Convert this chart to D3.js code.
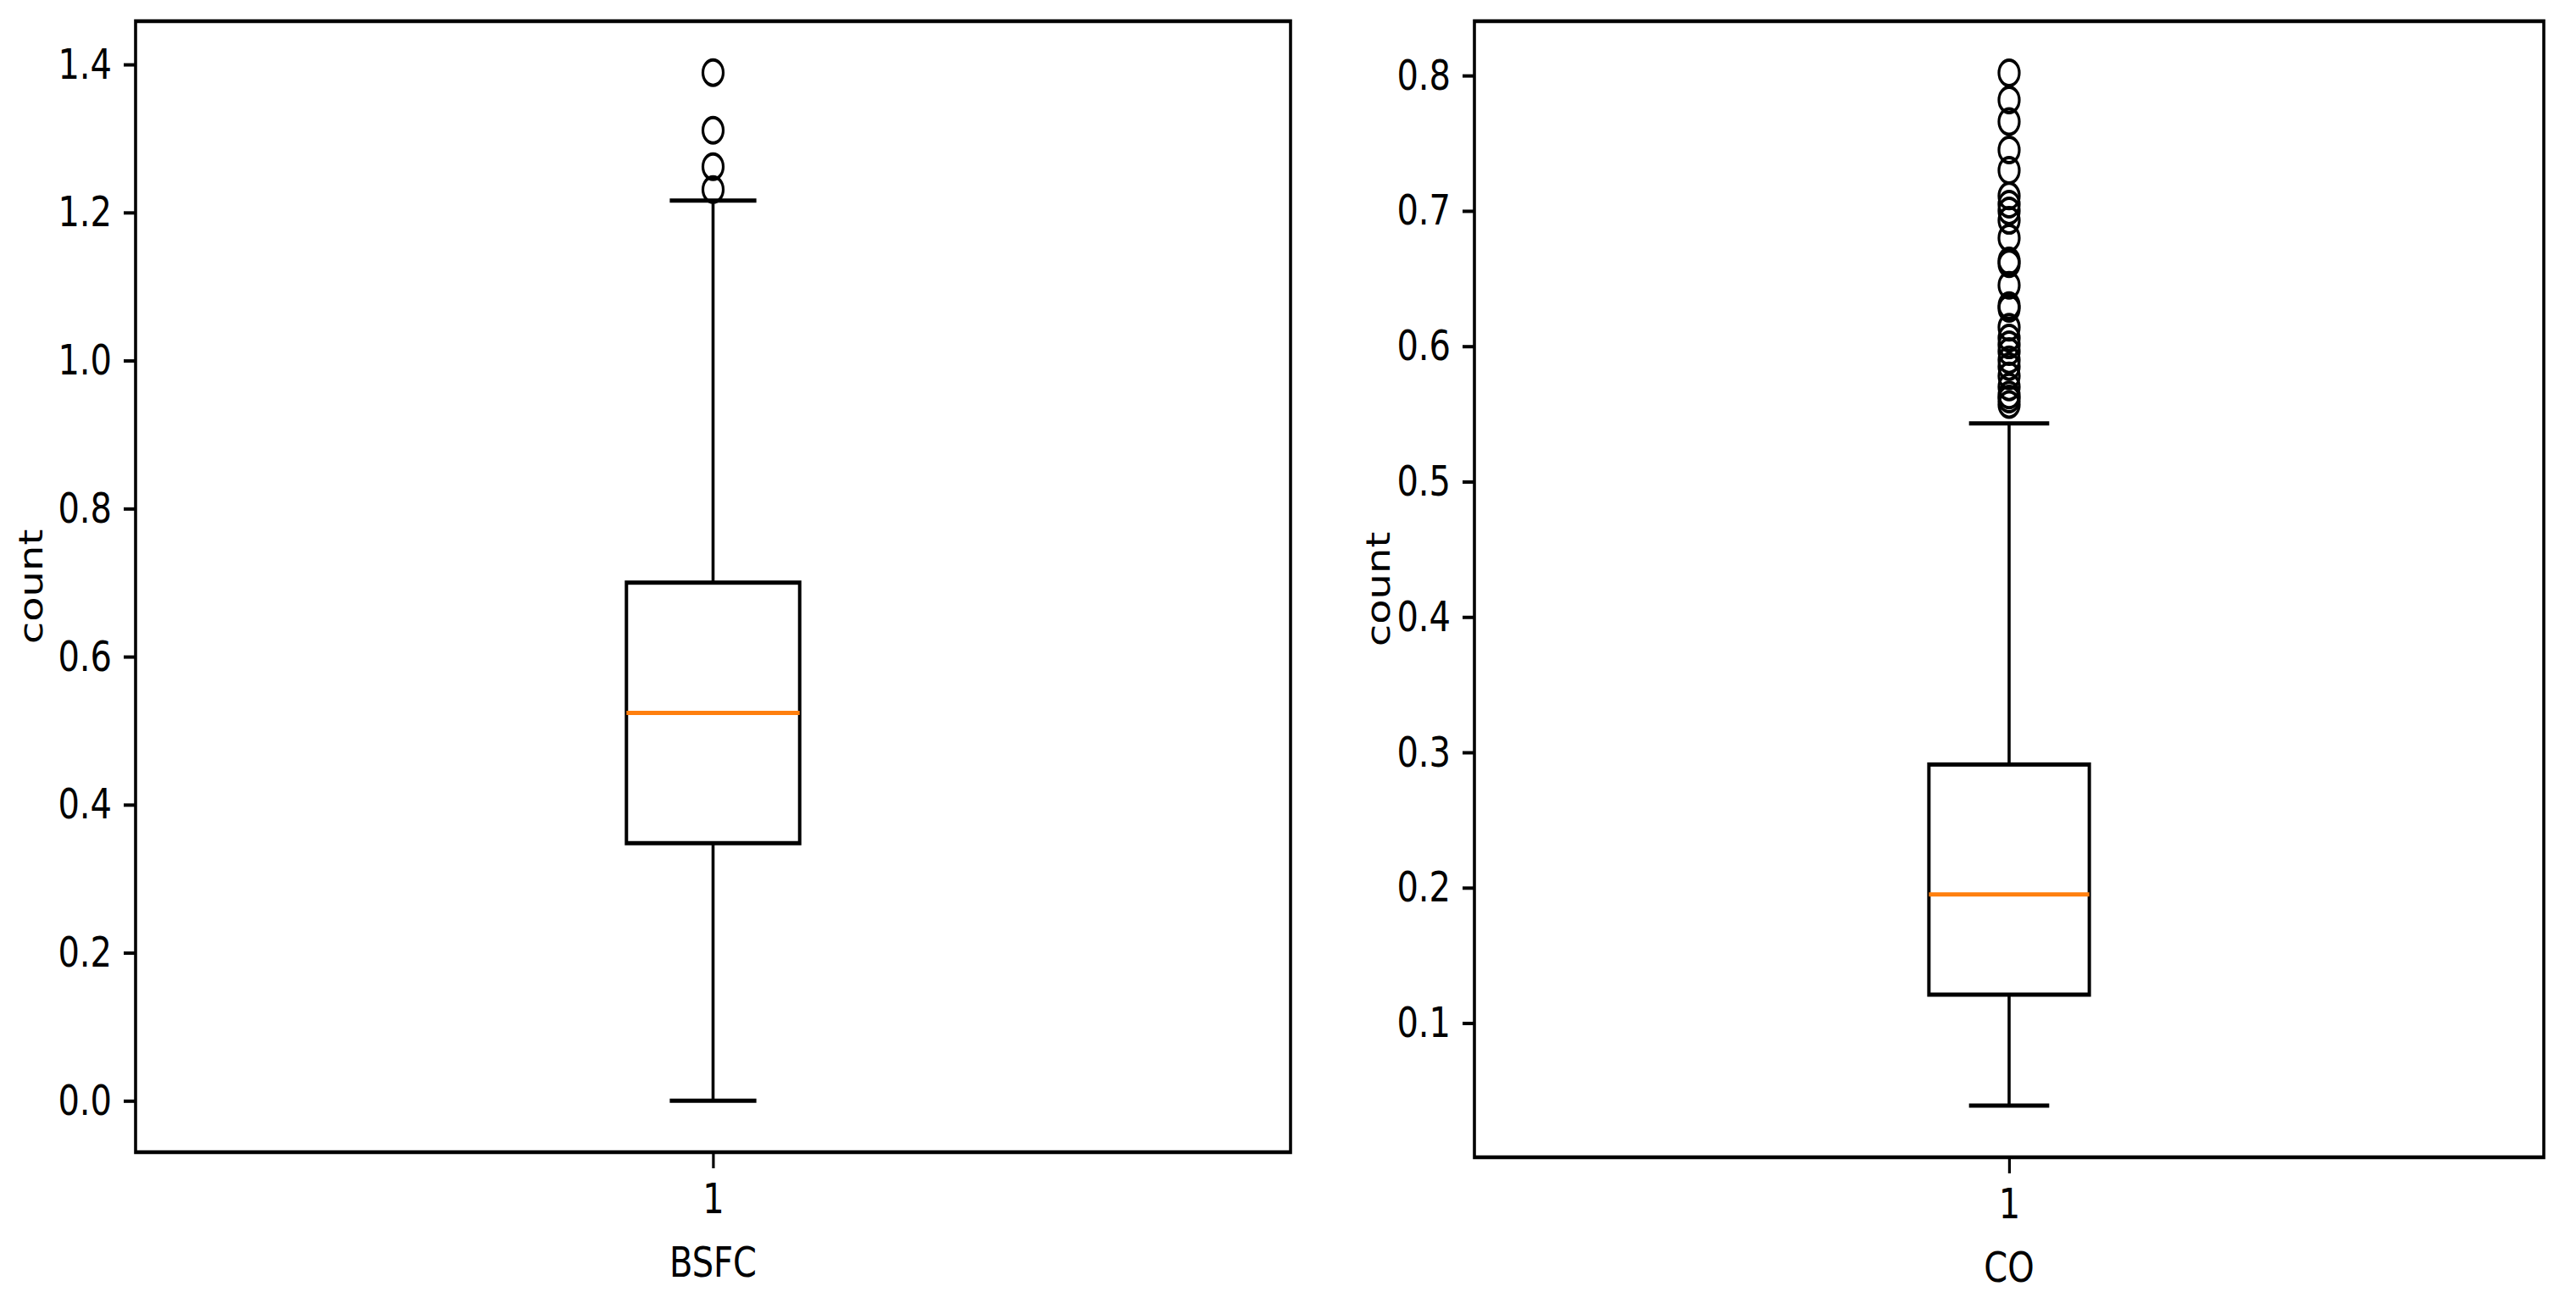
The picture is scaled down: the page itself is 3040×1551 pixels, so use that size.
<!DOCTYPE html>
<html>
<head>
<meta charset="utf-8">
<script src="https://cdn.jsdelivr.net/npm/d3@7"></script>
<style>
	html, body { margin: 0; padding: 0; background: #fff; }
	.tick text { font-family: 'DejaVu Sans', sans-serif; fill: #000; }
	.tick line { stroke: #000; }
</style>
</head>
<body>
<div id="chart"></div>
<script>
'use strict';

// five number summaries
var bsfcStats = [0.0, 0.348, 0.524, 0.700, 1.216];
var bsfcFliers = [1.231, 1.262, 1.311, 1.389];
var bsfcTicks = [0.0, 0.2, 0.4, 0.6, 0.8, 1.0, 1.2, 1.4];

var coStats = [0.039, 0.121, 0.195, 0.291, 0.543];
var coFliers = [0.557, 0.561, 0.564, 0.570, 0.578, 0.585, 0.590, 0.596,
	0.601, 0.606, 0.614, 0.628, 0.630, 0.645, 0.661, 0.663, 0.680,
	0.693, 0.700, 0.705, 0.711, 0.730, 0.745, 0.766, 0.782, 0.802];
var coTicks = [0.1, 0.2, 0.3, 0.4, 0.5, 0.6, 0.7, 0.8];

var xLabels = ['BSFC', 'CO'];
var yLabel = 'count';

var W = 3040, H = 1551;
// the picture is squeezed sideways, so everything is drawn in a stretched space
var K = 0.8;

var panels = [
	{ stats: bsfcStats, fliers: bsfcFliers, ticks: bsfcTicks, label: xLabels[0],
		left: 160, right: 1523, top: 25, bottom: 1360, ylabX: 50 },
	{ stats: coStats, fliers: coFliers, ticks: coTicks, label: xLabels[1],
		left: 1740, right: 3002, top: 25, bottom: 1366, ylabX: 1640 }
];

var svg = d3.select('#chart').append('svg')
	.attr('width', W)
	.attr('height', H);

svg.append('rect')
	.attr('width', W)
	.attr('height', H)
	.attr('fill', '#fff');

var root = svg.append('g')
	.attr('transform', 'scale(' + K + ', 1)');

function drawPanel (p)	{
	var all = p.stats.concat(p.fliers);
	var lo = d3.min(all), hi = d3.max(all);
	var pad = (hi - lo) * 0.05;

	var x = d3.scaleLinear().domain([0.5, 1.5])
		.range([p.left / K, p.right / K]);
	var y = d3.scaleLinear().domain([lo - pad, hi + pad])
		.range([p.bottom, p.top]);

	var g = root.append('g');

	var yaxis = d3.axisLeft(y)
		.tickValues(p.ticks)
		.tickFormat(d3.format('.1f'))
		.tickSize(17.5)
		.tickPadding(17.5);

	var xaxis = d3.axisBottom(x)
		.tickValues([1])
		.tickFormat(d3.format('d'))
		.tickSize(19)
		.tickPadding(18);

	var ya = g.append('g')
		.attr('transform', 'translate(' + x.range()[0] + ', 0)')
		.call(yaxis);
	var xa = g.append('g')
		.attr('transform', 'translate(0, ' + p.bottom + ')')
		.call(xaxis);

	[ya, xa].forEach(function (a)	{
		a.select('.domain').remove();
		a.selectAll('.tick line').attr('stroke-width', 4);
		a.selectAll('.tick text').attr('font-size', 50);
	});

	var cx = x(1), bw = x(1.075) - x(1), cw = x(1.0375) - x(1);
	var s = p.stats;

	// whiskers
	g.append('line')
		.attr('x1', cx).attr('x2', cx)
		.attr('y1', y(s[0])).attr('y2', y(s[1]))
		.attr('stroke', '#000').attr('stroke-width', 4.5);
	g.append('line')
		.attr('x1', cx).attr('x2', cx)
		.attr('y1', y(s[3])).attr('y2', y(s[4]))
		.attr('stroke', '#000').attr('stroke-width', 4.5);

	// caps
	[s[0], s[4]].forEach(function (v)	{
		g.append('line')
			.attr('x1', cx - cw).attr('x2', cx + cw)
			.attr('y1', y(v)).attr('y2', y(v))
			.attr('stroke', '#000').attr('stroke-width', 5);
	});

	// box
	g.append('rect')
		.attr('x', cx - bw)
		.attr('y', y(s[3]))
		.attr('width', bw * 2)
		.attr('height', y(s[1]) - y(s[3]))
		.attr('fill', 'none')
		.attr('stroke', '#000')
		.attr('stroke-width', 5);

	// median
	g.append('line')
		.attr('x1', cx - bw).attr('x2', cx + bw)
		.attr('y1', y(s[2])).attr('y2', y(s[2]))
		.attr('stroke', '#ff7f0e').attr('stroke-width', 5);

	// fliers
	g.selectAll('circle.flier')
		.data(p.fliers)
		.enter().append('circle')
		.attr('class', 'flier')
		.attr('cx', cx)
		.attr('cy', function (d) { return y(d); })
		.attr('r', 15)
		.attr('fill', 'none')
		.attr('stroke', '#000')
		.attr('stroke-width', 4);

	// frame
	g.append('rect')
		.attr('x', x.range()[0])
		.attr('y', p.top)
		.attr('width', x.range()[1] - x.range()[0])
		.attr('height', p.bottom - p.top)
		.attr('fill', 'none')
		.attr('stroke', '#000')
		.attr('stroke-width', 4.5);

	g.append('text')
		.attr('x', cx)
		.attr('y', p.bottom + 147)
		.attr('text-anchor', 'middle')
		.attr('font-family', 'DejaVu Sans, sans-serif')
		.attr('font-size', 50)
		.text(p.label);

	g.append('text')
		.attr('transform', 'translate(' + (p.ylabX / K) + ', ' +
			((p.top + p.bottom) / 2) + ') rotate(-90)')
		.attr('text-anchor', 'middle')
		.attr('font-family', 'DejaVu Sans, sans-serif')
		.attr('font-size', 48)
		.text(yLabel);
}

panels.forEach(drawPanel);
</script>
</body>
</html>
